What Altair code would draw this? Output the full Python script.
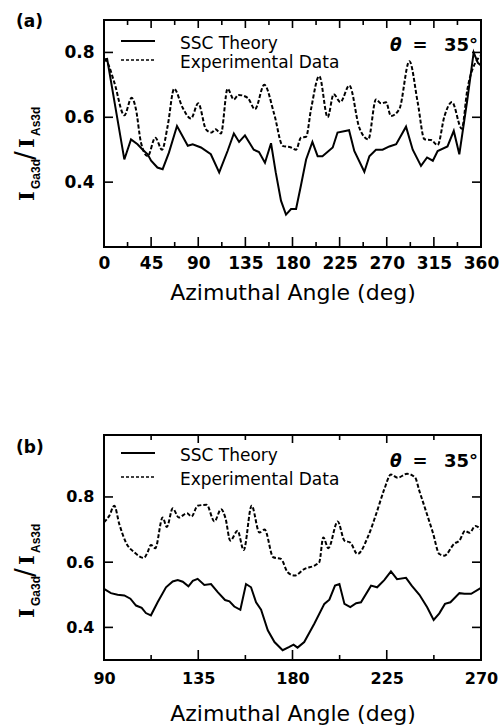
import altair as alt
import pandas as pd

# ---------------- data ----------------
a_theory_angle = [0, 3, 19.4, 25.8, 32, 37, 41.7, 45, 51, 56, 62, 69.7, 80, 84.7, 92.6, 102, 110, 118, 124, 129,
                  134.6, 143, 148, 153.7, 159.5, 164, 169, 173.8, 178.6, 183.4, 188, 193, 199, 204, 208.6, 218.4,
                  223, 234, 239, 248.6, 253.4, 259.7, 266, 272.5, 279, 288.4, 294.8, 302.7, 308.5, 314, 318.6,
                  328, 334, 339.3, 347, 353, 357, 360]
a_theory_value = [0.778, 0.78, 0.47, 0.532, 0.517, 0.50, 0.486, 0.466, 0.445, 0.44, 0.491, 0.573, 0.512, 0.517,
                  0.507, 0.486, 0.43, 0.496, 0.55, 0.524, 0.544, 0.50, 0.493, 0.46, 0.52, 0.43, 0.343, 0.30,
                  0.317, 0.317, 0.389, 0.47, 0.524, 0.48, 0.48, 0.507, 0.553, 0.56, 0.496, 0.432, 0.48, 0.50,
                  0.50, 0.51, 0.517, 0.571, 0.50, 0.45, 0.476, 0.466, 0.496, 0.51, 0.558, 0.486, 0.655, 0.80,
                  0.768, 0.76]

a_exp_angle = [0, 3, 9.9, 19.4, 26.4, 30.5, 35.3, 41.7, 49, 55.4, 60.8, 67, 75, 83, 90, 97.4, 102.8, 106.4, 111.7,
               118, 124, 128.3, 137.2, 144.2, 153, 162.6, 170.6, 178.6, 183.4, 188, 193, 197.7, 205.6, 213.6,
               219.3, 225.7, 234.3, 243.8, 252.4, 259.7, 264.5, 269.3, 274, 282, 291.6, 299.6, 306, 312.4,
               318.6, 325, 332.3, 341.6, 347, 357, 360]
a_exp_value = [0.78, 0.77, 0.707, 0.606, 0.66, 0.625, 0.522, 0.48, 0.537, 0.50, 0.573, 0.688, 0.63, 0.596, 0.643,
               0.563, 0.553, 0.563, 0.55, 0.688, 0.655, 0.669, 0.66, 0.625, 0.70, 0.609, 0.512, 0.507, 0.50,
               0.537, 0.54, 0.625, 0.727, 0.60, 0.671, 0.647, 0.698, 0.568, 0.532, 0.655, 0.643, 0.646, 0.604,
               0.625, 0.773, 0.645, 0.532, 0.53, 0.514, 0.602, 0.647, 0.565, 0.686, 0.78, 0.79]

b_theory_angle = [90, 93.3, 96.5, 99.7, 102.6, 105.3, 108, 110, 112.4, 115.6, 119.6, 122.8, 125.2, 127.6, 130.3,
                  132.4, 134.7, 137.9, 141.1, 144.3, 147.8, 149.9, 152.2, 155.1, 157.8, 160.2, 162.6, 165,
                  168.2, 171.4, 175.3, 178.5, 180.5, 182.4, 185.6, 190.4, 195.2, 197.6, 200.3, 202.4, 204.8,
                  207.6, 210.4, 212.7, 217.5, 220.4, 223.8, 227, 229.9, 234.2, 236.9, 240.6, 244.3, 247.4,
                  250.1, 252.8, 255.4, 259.7, 262.1, 265.3, 270]
b_theory_value = [0.518, 0.505, 0.50, 0.498, 0.488, 0.467, 0.46, 0.444, 0.437, 0.477, 0.523, 0.541, 0.545, 0.54,
                  0.526, 0.543, 0.549, 0.53, 0.533, 0.508, 0.484, 0.48, 0.464, 0.454, 0.533, 0.523, 0.477,
                  0.454, 0.391, 0.355, 0.33, 0.34, 0.347, 0.338, 0.355, 0.411, 0.472, 0.485, 0.528, 0.533,
                  0.472, 0.462, 0.474, 0.477, 0.528, 0.523, 0.545, 0.572, 0.548, 0.552, 0.528, 0.50, 0.462,
                  0.423, 0.443, 0.472, 0.477, 0.505, 0.503, 0.503, 0.521]

b_exp_angle = [90, 92.5, 94.9, 97.3, 100.5, 104.5, 109, 110.8, 112.4, 114.5, 118, 120, 122.8, 125.7, 129.6, 131.8,
               134.7, 139, 142.7, 145.9, 148, 150.3, 153.8, 156.7, 160.5, 164.2, 166.7, 170.8, 174.5, 177.7,
               181, 185.6, 191.2, 192.8, 194.7, 197.1, 201.6, 204.8, 207.6, 211, 215.9, 219.9, 223.8, 227,
               230.2, 234.7, 238.5, 240.6, 243.7, 247, 250.1, 252.5, 257.3, 259.7, 262.4, 264.5, 267.3, 270]
b_exp_value = [0.722, 0.742, 0.773, 0.717, 0.66, 0.63, 0.613, 0.63, 0.653, 0.643, 0.737, 0.708, 0.765, 0.737,
               0.75, 0.74, 0.773, 0.776, 0.725, 0.762, 0.735, 0.666, 0.696, 0.637, 0.773, 0.691, 0.70, 0.615,
               0.61, 0.569, 0.559, 0.579, 0.592, 0.60, 0.676, 0.643, 0.725, 0.666, 0.66, 0.625, 0.676, 0.747,
               0.823, 0.869, 0.859, 0.871, 0.86, 0.818, 0.757, 0.691, 0.625, 0.62, 0.657, 0.666, 0.696, 0.69,
               0.711, 0.70]

a_major = [0, 45, 90, 135, 180, 225, 270, 315, 360]
a_minor = [22.5, 67.5, 112.5, 157.5, 202.5, 247.5, 292.5, 337.5]
b_major = [90, 135, 180, 225, 270]
b_minor = [112.5, 157.5, 202.5, 247.5]
y_ticks = [0.4, 0.6, 0.8]

legend_labels = ["SSC Theory", "Experimental Data"]
x_title = "Azimuthal Angle (deg)"

W = 377
FONT = "DejaVu Sans"


def one(val):
    return pd.DataFrame({"t": [val]})


def txt(text, x, y, size=17, weight="normal", align="left", baseline="middle", angle=0,
        font=FONT, style="normal"):
    return alt.Chart(one(text)).mark_text(
        font=font, fontSize=size, fontWeight=weight, align=align, baseline=baseline,
        angle=angle, fontStyle=style, color="black"
    ).encode(x=alt.value(x), y=alt.value(y), text="t:N")


def panel(t_ang, t_val, e_ang, e_val, xdom, ydom, H, major, minor, label, tick_fs,
          lab_pad, title_pad, leg1, leg2, theta_y, label_y, yt_shift):
    sx = alt.Scale(domain=xdom, nice=False, zero=False)
    sy = alt.Scale(domain=ydom, nice=False, zero=False)
    ax = alt.Axis(
        values=major, format="d", title=x_title, ticks=False, tickSize=0, domain=False, grid=False,
        labelFont=FONT, labelFontSize=tick_fs, labelFontWeight="bold", labelColor="black",
        labelPadding=lab_pad, labelFlush=False, labelOverlap=False,
        titleFont=FONT, titleFontSize=22, titleFontWeight="normal", titleColor="black",
        titlePadding=title_pad)
    ay = alt.Axis(
        values=y_ticks, format=".1f", title="", ticks=False, tickSize=0, domain=False, grid=False,
        labelFont=FONT, labelFontSize=tick_fs, labelFontWeight="bold", labelColor="black",
        labelPadding=10, labelOverlap=False)
    dt = pd.DataFrame({"angle": t_ang, "value": t_val})
    de = pd.DataFrame({"angle": e_ang, "value": e_val})

    theory = alt.Chart(dt).mark_line(color="black", strokeWidth=2).encode(
        x=alt.X("angle:Q", scale=sx, axis=ax),
        y=alt.Y("value:Q", scale=sy, axis=ay),
    )
    exp = alt.Chart(de).mark_line(color="black", strokeWidth=2, strokeDash=[4, 2],
                                  interpolate="monotone").encode(
        x=alt.X("angle:Q", scale=sx, axis=ax),
        y=alt.Y("value:Q", scale=sy, axis=ay),
    )
    dmaj = pd.DataFrame({"angle": major})
    dmin = pd.DataFrame({"angle": minor})
    dy = pd.DataFrame({"value": y_ticks})
    rule = dict(color="black", strokeWidth=1.6)
    xq = alt.X("angle:Q", scale=sx, axis=ax)
    yq = alt.Y("value:Q", scale=sy, axis=ay)
    ticks = [
        alt.Chart(dmaj).mark_rule(**rule).encode(x=xq, y=alt.value(H), y2=alt.value(H - 10)),
        alt.Chart(dmaj).mark_rule(**rule).encode(x=xq, y=alt.value(0), y2=alt.value(8)),
        alt.Chart(dmin).mark_rule(**rule).encode(x=xq, y=alt.value(H), y2=alt.value(H - 5)),
        alt.Chart(dmin).mark_rule(**rule).encode(x=xq, y=alt.value(0), y2=alt.value(5)),
        alt.Chart(dy).mark_rule(**rule).encode(y=yq, x=alt.value(0), x2=alt.value(9)),
        alt.Chart(dy).mark_rule(**rule).encode(y=yq, x=alt.value(W), x2=alt.value(W - 9)),
    ]
    legend = [
        alt.Chart(one("s")).mark_rule(color="black", strokeWidth=2).encode(
            x=alt.value(17), x2=alt.value(51), y=alt.value(leg1)),
        alt.Chart(one("d")).mark_rule(color="black", strokeWidth=1.6, strokeDash=[3, 2]).encode(
            x=alt.value(17), x2=alt.value(51), y=alt.value(leg2)),
        txt(legend_labels[0], 76, leg1 + 3, size=17, weight=500),
        txt(legend_labels[1], 76, leg2 + 3, size=17, weight=500),
        txt("θ", 286, theta_y, size=17, weight="bold", style="italic"),
        txt("=", 316, theta_y, size=18, weight="bold", align="center"),
        txt("35°", 374, theta_y, size=18, weight="bold", align="right"),
        txt(label, -88, label_y, size=17, weight="bold"),
    ]
    # rotated y-axis title  I_Ga3d / I_As3d
    s = yt_shift
    yt = [
        txt("I", -70, 181 + s, size=21, weight="bold", baseline="alphabetic", angle=270,
            font="DejaVu Serif"),
        txt("Ga3d", -64, 169 + s, size=12, weight="bold", baseline="alphabetic", angle=270,
            font="Liberation Sans"),
        txt("/", -70, 140 + s, size=26, baseline="alphabetic", angle=270),
        txt("I", -70, 128 + s, size=21, weight="bold", baseline="alphabetic", angle=270,
            font="DejaVu Serif"),
        txt("As3d", -64, 116 + s, size=12, weight="bold", baseline="alphabetic", angle=270,
            font="Liberation Sans"),
    ]
    return alt.layer(theory, exp, *ticks, *legend, *yt).properties(width=W, height=H)


pa = panel(a_theory_angle, a_theory_value, a_exp_angle, a_exp_value, [0, 360], [0.2, 0.9], 227,
           a_major, a_minor, "(a)", 17, 8, 11, 21, 40, 26, 2, 0)
pb = panel(b_theory_angle, b_theory_value, b_exp_angle, b_exp_value, [90, 270], [0.3, 0.99], 225,
           b_major, b_minor, "(b)", 16, 10, 17, 18, 42, 27, 13, 2)

chart = alt.vconcat(pa, pb, spacing=188, bounds="flush").properties(
    padding={"left": 12, "top": 12, "right": 0, "bottom": 0},
    background="white",
).configure_view(stroke="black", strokeWidth=2)

chart.save("out.html", embed_options={"renderer": "svg", "actions": False})
